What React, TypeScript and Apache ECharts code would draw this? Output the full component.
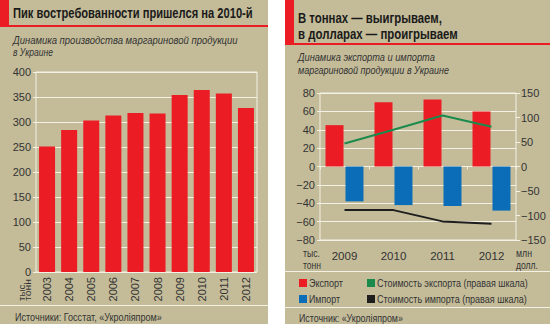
import React, { useEffect, useRef } from "react";
import * as echarts from "echarts";

const years1 = ["2003", "2004", "2005", "2006", "2007", "2008", "2009", "2010", "2011", "2012"];
const production = [251, 284, 303, 313, 318, 317, 354, 364, 357, 328];

const years2 = ["2009", "2010", "2011", "2012"];
const exportTons = [45, 70, 73, 60];
const importTons = [-38, -42, -43, -48];
const exportValue = [47, 75, 104, 81];
const importValue = [-89, -89, -112, -117];

const legendNames = ["Экспорт", "Импорт", "Стоимость экспорта (правая шкала)", "Стоимость импорта (правая шкала)"];

const FONT = "'Liberation Sans', Arial, sans-serif";
const BG = "#c4bc99";
const RED = "#ec1c24";
const BLUE = "#0b6db7";
const GREEN = "#1b8a4d";
const DARK = "#1e1e1e";
const GRID = "#f3f0e4";
const TXT = "#333333";

let measureCtx: CanvasRenderingContext2D | null = null;
function measure(text: string, font: string): number {
  if (!measureCtx) measureCtx = document.createElement("canvas").getContext("2d");
  if (!measureCtx) return text.length * 6;
  measureCtx.font = font;
  return measureCtx.measureText(text).width;
}

function fitText(
  text: string,
  x: number,
  y: number,
  target: number,
  o: { size?: number; weight?: string; style?: string; fill?: string; rotation?: number } = {}
) {
  const size = o.size ?? 12;
  const weight = o.weight ?? "normal";
  const style = o.style ?? "normal";
  const w = measure(text, `${style} ${weight} ${size}px ${FONT}`);
  return {
    type: "text",
    x,
    y,
    rotation: o.rotation ?? 0,
    scaleX: w > 0 ? target / w : 1,
    z: 10,
    style: {
      text,
      fill: o.fill ?? TXT,
      fontFamily: FONT,
      fontSize: size,
      fontWeight: weight,
      fontStyle: style,
      align: "left",
      verticalAlign: "middle",
    },
  };
}

const signFmt = (v: number) => (v < 0 ? "−" + Math.abs(v) : String(v));

export default function App() {
  const ref = useRef<HTMLDivElement>(null);
  useEffect(() => {
    if (!ref.current) return;
    const chart = echarts.init(ref.current, null, { renderer: "svg" });
    const axisFont = { fontSize: 11, color: TXT, fontFamily: FONT };
    const legendColors = [RED, BLUE, GREEN, DARK];
    const legendGraphics: any[] = [];
    const legPos = [
      [299, 283, 34],
      [299, 299, 31],
      [367, 283, 151],
      [367, 299, 150],
    ];
    legendNames.forEach((n, i) => {
      const [lx, ly, tw] = legPos[i];
      legendGraphics.push({
        type: "rect",
        z: 10,
        shape: { x: lx, y: ly - 4, width: 8, height: 8 },
        style: { fill: legendColors[i] },
      });
      legendGraphics.push(fitText(n, lx + 10, ly, tw, { size: 11.5 }));
    });

    const option: any = {
      animation: false,
      backgroundColor: "#ffffff",
      textStyle: { fontFamily: FONT },
      graphic: [
        { type: "rect", z: -10, shape: { x: 0, y: 0, width: 268, height: 324 }, style: { fill: BG } },
        { type: "rect", z: -10, shape: { x: 285, y: 0, width: 265, height: 324 }, style: { fill: BG } },
        { type: "rect", z: -9, shape: { x: 0, y: 0, width: 9, height: 27 }, style: { fill: RED } },
        { type: "rect", z: -9, shape: { x: 0, y: 25, width: 268, height: 2 }, style: { fill: RED } },
        { type: "rect", z: -9, shape: { x: 285, y: 0, width: 9, height: 45 }, style: { fill: RED } },
        { type: "rect", z: -9, shape: { x: 285, y: 43, width: 265, height: 2 }, style: { fill: RED } },
        { type: "rect", z: -9, shape: { x: 0, y: 305, width: 268, height: 1 }, style: { fill: GRID } },
        { type: "rect", z: -9, shape: { x: 285, y: 271, width: 265, height: 1 }, style: { fill: GRID } },
        { type: "rect", z: -9, shape: { x: 285, y: 307, width: 265, height: 1 }, style: { fill: GRID } },
        fitText("Пик востребованности пришелся на 2010-й", 13, 14, 240, { size: 14, weight: "bold", fill: "#1a1a1a" }),
        fitText("Динамика производства маргариновой продукции", 13, 40, 225, { size: 11.5, style: "italic" }),
        fitText("в Украине", 13, 52, 40, { size: 11.5, style: "italic" }),
        fitText("В тоннах — выигрываем,", 298, 18, 144, { size: 14, weight: "bold", fill: "#1a1a1a" }),
        fitText("в долларах — проигрываем", 298, 34, 160, { size: 14, weight: "bold", fill: "#1a1a1a" }),
        fitText("Динамика экспорта и импорта", 298, 57, 137, { size: 11.5, style: "italic" }),
        fitText("маргариновой продукции в Украине", 298, 70, 151, { size: 11.5, style: "italic" }),
        fitText("тыс,", 21.5, 301, 19, { size: 9.5, rotation: Math.PI / 2 }),
        fitText("тонн", 28, 301, 22, { size: 9.5, rotation: Math.PI / 2 }),
        fitText("тыс.", 303, 253, 17, { size: 11 }),
        fitText("тонн", 303, 265, 18, { size: 11 }),
        fitText("млн", 516, 253, 16, { size: 11 }),
        fitText("долл.", 516, 265, 22, { size: 11 }),
        fitText("Источники: Госстат, «Укроліяпром»", 15, 317, 147, { size: 11.5 }),
        fitText("Источник: «Укроліяпром»", 299, 318, 104, { size: 11.5 }),
        ...legendGraphics,
      ],
      legend: { show: false, data: legendNames },
      grid: [
        { left: 36, top: 72, width: 221, height: 200, show: true, borderColor: GRID, borderWidth: 1, backgroundColor: "transparent" },
        { left: 320, top: 93, width: 196, height: 147, show: true, borderColor: GRID, borderWidth: 1, backgroundColor: "transparent" },
      ],
      xAxis: [
        {
          gridIndex: 0,
          type: "category",
          data: years1,
          axisLine: { show: false },
          axisTick: { show: false },
          axisLabel: { rotate: 90, margin: 5, ...axisFont },
        },
        {
          gridIndex: 1,
          type: "category",
          data: years2,
          position: "bottom",
          axisLine: { show: false, onZero: false },
          axisTick: { show: false },
          axisLabel: { margin: 10, ...axisFont, fontSize: 11.5 },
        },
        {
          gridIndex: 1,
          type: "category",
          data: years2,
          position: "bottom",
          axisLine: { show: true, onZero: true, lineStyle: { color: GRID, width: 1 } },
          axisTick: { show: true, length: 3, lineStyle: { color: GRID } },
          axisLabel: { show: false },
        },
      ],
      yAxis: [
        {
          gridIndex: 0,
          type: "value",
          min: 0,
          max: 400,
          interval: 50,
          axisLine: { show: false },
          axisTick: { show: true, length: 3, lineStyle: { color: GRID } },
          splitLine: { lineStyle: { color: GRID, width: 1 } },
          axisLabel: { margin: 5, ...axisFont },
        },
        {
          gridIndex: 1,
          type: "value",
          min: -80,
          max: 80,
          interval: 20,
          axisLine: { show: false },
          axisTick: { show: true, length: 3, lineStyle: { color: GRID } },
          splitLine: { lineStyle: { color: GRID, width: 1 } },
          axisLabel: { margin: 5, ...axisFont, formatter: signFmt },
        },
        {
          gridIndex: 1,
          type: "value",
          position: "right",
          min: -150,
          max: 150,
          interval: 50,
          axisLine: { show: false },
          axisTick: { show: true, length: 4, lineStyle: { color: GRID } },
          splitLine: { show: false },
          axisLabel: { margin: 5, ...axisFont, formatter: signFmt },
        },
      ],
      series: [
        {
          type: "bar",
          xAxisIndex: 0,
          yAxisIndex: 0,
          data: production,
          barWidth: 16,
          itemStyle: { color: RED },
        },
        {
          name: legendNames[0],
          type: "bar",
          xAxisIndex: 1,
          yAxisIndex: 1,
          data: exportTons,
          barWidth: 18,
          barGap: "11%",
          itemStyle: { color: RED },
        },
        {
          name: legendNames[1],
          type: "bar",
          xAxisIndex: 1,
          yAxisIndex: 1,
          data: importTons,
          barWidth: 18,
          barGap: "11%",
          itemStyle: { color: BLUE },
        },
        {
          name: legendNames[2],
          type: "line",
          xAxisIndex: 1,
          yAxisIndex: 2,
          data: exportValue,
          symbol: "none",
          z: 5,
          lineStyle: { color: GREEN, width: 2 },
          itemStyle: { color: GREEN },
        },
        {
          name: legendNames[3],
          type: "line",
          xAxisIndex: 1,
          yAxisIndex: 2,
          data: importValue,
          symbol: "none",
          z: 5,
          lineStyle: { color: DARK, width: 2 },
          itemStyle: { color: DARK },
        },
      ],
    };
    chart.setOption(option);
    return () => chart.dispose();
  }, []);
  return <div ref={ref} style={{ position: "fixed", left: 0, top: 0, width: 550, height: 324 }} />;
}
